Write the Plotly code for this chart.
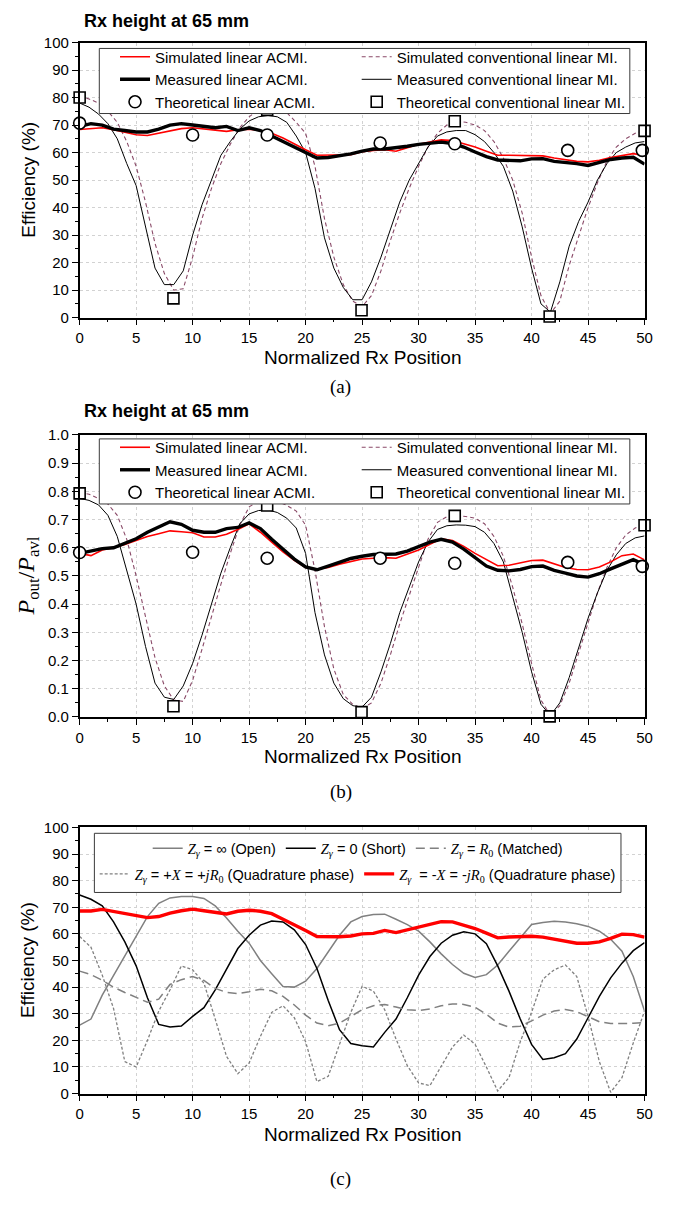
import plotly.graph_objects as go

W, H = 684, 1215
SANS = "Liberation Sans, Arial, sans-serif"
SERIF = "Liberation Serif, Times New Roman, serif"

# ---------------- shared x positions ----------------
pos_int = list(range(0, 51))
pos_fine = [0, 0.83, 1.67, 2.5, 3.33, 4.17, 5, 5.83, 6.67, 7.5, 8.33, 9.17, 10,
            10.83, 11.67, 12.5, 13.33, 14.17, 15, 15.83, 16.67, 17.5, 18.33, 19.17,
            20, 20.83, 21.67, 22.5, 23.33, 24.17, 25, 25.83, 26.67, 27.5, 28.33,
            29.17, 30, 30.83, 31.67, 32.5, 33.33, 34.17, 35, 35.83, 36.67, 37.5,
            38.33, 39.17, 40, 40.83, 41.67, 42.5, 43.33, 44.17, 45, 45.83, 46.67,
            47.5, 48.33, 49.17, 50]
theo_acmi_pos = [0, 10, 16.6, 26.6, 33.2, 43.2, 49.8]
theo_conv_pos = [0, 8.3, 16.6, 24.95, 33.2, 41.6, 50]

# ---------------- panel (a): efficiency (%) ----------------
a_sim_acmi = [68.4, 68.6, 69, 68.3, 67.3, 66.5, 66.2, 67, 68, 68.7, 69, 68.5, 68,
              67.7, 68.3, 68.5, 68, 67, 65.3, 63, 61, 59, 59, 59, 59.2, 60.3, 60.8,
              61, 60.5, 61.8, 63, 63.8, 64.6, 64.4, 63.3, 62, 60.5, 59, 59, 59, 59,
              58.8, 58, 57.3, 56.8, 56.6, 57.2, 58.2, 59, 59.6, 58.9]
a_meas_acmi = [69.5, 70.5, 70, 68.5, 68, 67.5, 67.5, 68.5, 70, 70.5, 70, 69.5, 69,
               69.5, 68, 69, 68, 66, 64, 62, 60, 58, 58.2, 58.8, 59.5, 60.5, 61.3,
               61.3, 61.7, 62.3, 63, 63.5, 63.8, 63.3, 62, 60.2, 58.5, 57.3, 57, 57,
               57.7, 57.8, 56.8, 56.5, 56, 55.3, 56.5, 57.5, 58, 58.3, 55.8]
a_sim_conv = [80.5, 79.5, 78, 75, 71, 64, 55, 42, 27, 16, 10, 10.5, 22, 36, 47, 56,
              63, 69, 73, 75.5, 76.5, 76, 74.5, 71, 67, 55, 36, 22, 12, 6, 4, 8, 17,
              28, 38, 47, 55, 62, 67, 70, 71.5, 71, 70, 68, 64, 58, 50, 38, 22, 8,
              1.5, 6, 19, 30, 40, 49, 57, 62, 65, 67, 68]
a_meas_conv = [78, 76.5, 74, 70.5, 65, 56, 48, 33, 18, 12, 12, 17, 30, 41, 50, 59,
               64, 68.5, 71.5, 73, 73.5, 73, 71, 66, 60, 47, 29, 18, 11, 6.5, 6.5,
               13, 22, 32, 42, 50, 56, 62, 66, 67.5, 68, 68, 66.5, 64, 60, 55, 46,
               33, 18, 5, 2, 13, 26, 35, 42, 50, 56, 60, 62, 63.5, 64]
a_theo_acmi = [70.7, 66.4, 66.4, 63.5, 63.2, 60.8, 60.8]
a_theo_conv = [80, 7, 75.5, 2.7, 71.4, 0.4, 67.9]

# ---------------- panel (b): Pout / Pavl ----------------
b_sim_acmi = [0.58, 0.572, 0.592, 0.6, 0.612, 0.627, 0.64, 0.65, 0.66, 0.657, 0.653,
              0.638, 0.638, 0.648, 0.665, 0.685, 0.655, 0.62, 0.585, 0.555, 0.53,
              0.524, 0.53, 0.542, 0.552, 0.56, 0.563, 0.565, 0.563, 0.578, 0.592,
              0.612, 0.632, 0.626, 0.605, 0.58, 0.558, 0.536, 0.538, 0.547, 0.555,
              0.556, 0.543, 0.53, 0.523, 0.522, 0.532, 0.55, 0.572, 0.578, 0.557]
b_meas_acmi = [0.58, 0.59, 0.597, 0.6, 0.615, 0.632, 0.655, 0.675, 0.692, 0.683,
               0.662, 0.655, 0.655, 0.668, 0.672, 0.688, 0.668, 0.63, 0.595, 0.56,
               0.532, 0.522, 0.535, 0.55, 0.562, 0.57, 0.576, 0.577, 0.578, 0.588,
               0.605, 0.62, 0.63, 0.62, 0.595, 0.565, 0.535, 0.52, 0.518, 0.523,
               0.533, 0.535, 0.52, 0.51, 0.5, 0.496, 0.508, 0.525, 0.54, 0.558, 0.54]
b_sim_conv = [0.795, 0.79, 0.775, 0.755, 0.715, 0.63, 0.50, 0.36, 0.21, 0.11, 0.06,
              0.055, 0.13, 0.24, 0.36, 0.47, 0.58, 0.68, 0.745, 0.765, 0.77, 0.765,
              0.75, 0.73, 0.68, 0.52, 0.32, 0.17, 0.08, 0.045, 0.03, 0.05, 0.12,
              0.22, 0.33, 0.43, 0.53, 0.63, 0.69, 0.71, 0.713, 0.711, 0.705, 0.685,
              0.64, 0.57, 0.46, 0.33, 0.19, 0.06, 0.005, 0.04, 0.12, 0.23, 0.34,
              0.44, 0.53, 0.6, 0.645, 0.67, 0.685]
b_meas_conv = [0.775, 0.768, 0.752, 0.715, 0.64, 0.52, 0.40, 0.25, 0.12, 0.07,
               0.062, 0.11, 0.19, 0.29, 0.40, 0.51, 0.60, 0.685, 0.72, 0.732, 0.734,
               0.725, 0.705, 0.67, 0.58, 0.37, 0.22, 0.12, 0.065, 0.04, 0.035, 0.07,
               0.16, 0.26, 0.37, 0.46, 0.55, 0.62, 0.665, 0.678, 0.681, 0.68, 0.675,
               0.655, 0.615, 0.55, 0.43, 0.30, 0.16, 0.045, 0.005, 0.05, 0.14, 0.25,
               0.35, 0.44, 0.52, 0.575, 0.615, 0.635, 0.642]
b_theo_acmi = [0.583, 0.584, 0.563, 0.563, 0.545, 0.548, 0.534]
b_theo_conv = [0.793, 0.038, 0.75, 0.017, 0.713, 0.002, 0.68]

# ---------------- panel (c): termination cases, efficiency (%) ----------------
c_open = [25.7, 28, 37, 44.5, 51.5, 59, 66.5, 71.5, 73.5, 74, 74, 73.3, 70.5, 66,
          61, 56.5, 50, 45, 40.2, 40, 42.2, 47, 53.5, 59.5, 64.5, 66.5, 67.3, 67.4,
          65.5, 63.5, 61, 57, 52.5, 48.5, 45.2, 43.6, 44.7, 48.3, 53.5, 58.5, 63.5,
          64.3, 64.7, 64.5, 63.8, 62.8, 61, 58, 53.5, 44, 31]
c_short = [74.6, 73, 70.5, 64.5, 57, 48, 36, 26, 25, 25.4, 29, 32.3, 39, 47, 54.5,
           59.5, 63.3, 64.8, 64.5, 61.5, 56, 47, 35, 24, 18.8, 18, 17.5, 23, 28, 36,
           44.5, 51.5, 56.5, 59.5, 60.8, 60, 56.3, 48, 38.5, 28, 18.5, 12.8, 13.5,
           15, 20.5, 28.5, 36.5, 43.5, 49, 53.7, 56.7]
c_matched = [46, 44.7, 42.6, 40, 38, 36, 34.3, 35.5, 41, 42.8, 44, 42.5, 39.5, 38,
             37.6, 38.3, 39.2, 38.6, 36.5, 33.3, 29.5, 26.5, 25.5, 26.5, 29, 31.5,
             33, 33.5, 32.5, 31.5, 31.2, 31.8, 33, 33.7, 33.5, 32.4, 29.8, 26.5, 25,
             25.3, 27.3, 29.5, 31, 31.6, 30.8, 28.8, 27, 26.3, 26.3, 26.4, 26.7]
c_plus_x = [59, 55, 44.5, 32, 12, 10, 20, 31, 39, 48, 46.5, 41.5, 28, 14, 7.5, 11.5,
            21.5, 30.5, 33, 28.5, 19.5, 4.5, 6.5, 18.5, 30.5, 40.3, 38.5, 31.5, 20.5,
            10.5, 4, 3, 10, 17.5, 22, 18.5, 10, 1, 6, 19.5, 30.5, 43, 46.5, 48.3, 44,
            29, 12, 0.5, 6, 19, 31]
c_minus_x = [68.6, 68.6, 69.2, 68.4, 67.8, 67, 66.1, 66.5, 67.8, 68.7, 69.3, 68.7, 68,
             67.5, 68.5, 68.9, 68.5, 67.6, 65.5, 63.5, 61.3, 59, 58.9, 58.9, 59.2, 60,
             60.2, 61.3, 60.5, 61.5, 62.6, 63.6, 64.6, 64.5, 63.3, 62, 60.3, 58.5,
             58.8, 59.1, 59.1, 58.8, 58, 57.3, 56.5, 56.5, 57, 58.3, 59.9, 59.7, 58.8]

legend_names = ["Simulated linear ACMI.", "Simulated conventional linear MI.",
                "Measured linear ACMI.", "Measured conventional linear MI.",
                "Theoretical linear ACMI.", "Theoretical conventional linear MI."]


def fx(p):
    return p / W


def fy(p):
    return 1 - p / H


RED = "#ff0000"
MAROON = "#8a4a68"
GRAY = "#808080"

fig = go.Figure()


def add_efficiency_panel(n, sim_acmi, meas_acmi, sim_conv, meas_conv, theo_acmi, theo_conv,
                         leg_left, leg_right):
    xa = "x" if n == 1 else f"x{n}"
    ya = "y" if n == 1 else f"y{n}"
    common = dict(xaxis=xa, yaxis=ya, mode="lines")
    fig.add_trace(go.Scatter(x=pos_fine, y=sim_conv, name=legend_names[1], legend=leg_right,
                             legendrank=1, line=dict(color=MAROON, width=1.1, dash="4px,3px"),
                             **common))
    fig.add_trace(go.Scatter(x=pos_fine, y=meas_conv, name=legend_names[3], legend=leg_right,
                             legendrank=2, line=dict(color="black", width=1), **common))
    fig.add_trace(go.Scatter(x=pos_int, y=sim_acmi, name=legend_names[0], legend=leg_left,
                             legendrank=1, line=dict(color=RED, width=1.6), **common))
    fig.add_trace(go.Scatter(x=pos_int, y=meas_acmi, name=legend_names[2], legend=leg_left,
                             legendrank=2, line=dict(color="black", width=3.4), **common))
    fig.add_trace(go.Scatter(x=theo_acmi_pos, y=theo_acmi, name=legend_names[4],
                             legend=leg_left, legendrank=3, mode="markers", cliponaxis=False,
                             marker=dict(symbol="circle", size=12, color="white",
                                         line=dict(color="black", width=1.6)),
                             xaxis=xa, yaxis=ya))
    fig.add_trace(go.Scatter(x=theo_conv_pos, y=theo_conv, name=legend_names[5],
                             legend=leg_right, legendrank=3, mode="markers", cliponaxis=False,
                             marker=dict(symbol="square", size=11, color="white",
                                         line=dict(color="black", width=1.6)),
                             xaxis=xa, yaxis=ya))


add_efficiency_panel(1, a_sim_acmi, a_meas_acmi, a_sim_conv, a_meas_conv,
                     a_theo_acmi, a_theo_conv, "legend", "legend2")
add_efficiency_panel(2, b_sim_acmi, b_meas_acmi, b_sim_conv, b_meas_conv,
                     b_theo_acmi, b_theo_conv, "legend3", "legend4")

# panel (c) legend labels
S = '<span style="font-family:Liberation Serif">'
E = "</span>"
ZG = f"{S}<i>Z</i><sub><i>γ</i></sub>{E}"
name_open = f"{ZG} = ∞ (Open)"
name_short = f"{ZG} = 0 (Short)"
name_matched = f"{ZG} = {S}<i>R</i><sub>0</sub>{E} (Matched)"
name_plus = f"{ZG} = +{S}<i>X</i>{E} = +{S}<i>jR</i><sub>0</sub>{E} (Quadrature phase)"
name_minus = f"{ZG}  = -{S}<i>X</i>{E} = -{S}<i>jR</i><sub>0</sub>{E} (Quadrature phase)"

cc = dict(xaxis="x3", yaxis="y3", mode="lines")
fig.add_trace(go.Scatter(x=pos_int, y=c_open, name=name_open, legend="legend5", legendrank=1,
                         line=dict(color=GRAY, width=1.5), **cc))
fig.add_trace(go.Scatter(x=pos_int, y=c_short, name=name_short, legend="legend5", legendrank=2,
                         line=dict(color="black", width=1.5), **cc))
fig.add_trace(go.Scatter(x=pos_int, y=c_matched, name=name_matched, legend="legend5",
                         legendrank=3, line=dict(color=GRAY, width=1.5, dash="9px,5px"), **cc))
fig.add_trace(go.Scatter(x=pos_int, y=c_plus_x, name=name_plus, legend="legend6", legendrank=1,
                         line=dict(color=GRAY, width=1.3, dash="3px,2px"), **cc))
fig.add_trace(go.Scatter(x=pos_int, y=c_minus_x, name=name_minus, legend="legend6",
                         legendrank=2, line=dict(color=RED, width=3.4), **cc))

# ---------------- axes ----------------
x_dom = [fx(77), fx(652)]
panels = {1: (34, 313), 2: (432, 718), 3: (830, 1100)}


def axis_style():
    return dict(showline=True, linecolor="black", linewidth=1.5, mirror=True,
                ticks="outside", ticklen=6, tickwidth=1.2, tickcolor="black",
                showgrid=True, gridcolor="#d2d2d2", griddash="dot", gridwidth=1,
                zeroline=False, tickfont=dict(size=15, color="black", family=SANS),
                minor=dict(ticks="outside", ticklen=3, tickwidth=1.2, tickcolor="black",
                           showgrid=False))


layout_axes = {}
for n, (top, bot) in panels.items():
    xk = "xaxis" if n == 1 else f"xaxis{n}"
    yk = "yaxis" if n == 1 else f"yaxis{n}"
    ya_ref = "y" if n == 1 else f"y{n}"
    xa_ref = "x" if n == 1 else f"x{n}"
    xs = axis_style()
    xs.update(domain=x_dom, range=[0, 50], tick0=0, dtick=5, anchor=ya_ref)
    xs["minor"].update(dtick=2.5)
    ys = axis_style()
    ys.update(domain=[fy(bot), fy(top)], anchor=xa_ref)
    if n == 2:
        ys.update(range=[0, 1], tick0=0, dtick=0.1, tickformat=".1f")
        ys["minor"].update(dtick=0.05)
    else:
        ys.update(range=[0, 100], tick0=0, dtick=10)
        ys["minor"].update(dtick=5)
    layout_axes[xk] = xs
    layout_axes[yk] = ys

fig.update_layout(**layout_axes)


# ---------------- legends ----------------
def legend_box(x_px, y_px, size, xanchor="left", orientation="v"):
    return dict(x=fx(x_px), y=fy(y_px), xref="paper", yref="paper", xanchor=xanchor,
                yanchor="top", orientation=orientation, bgcolor="rgba(0,0,0,0)",
                borderwidth=0, font=dict(size=size, color="black", family=SANS),
                traceorder="normal", tracegroupgap=0)


fig.update_layout(
    legend=legend_box(113, 32, 15),
    legend2=legend_box(359, 32, 15),
    legend3=legend_box(113, 428, 15),
    legend4=legend_box(359, 428, 15),
    legend5=legend_box(360, 835, 14.5, xanchor="center", orientation="h"),
    legend6=legend_box(360, 861, 14.5, xanchor="center", orientation="h"),
)

shapes = []
for (x0, x1, y0, y1) in [(97, 637, 40, 106), (97, 637, 436, 502), (92, 628, 836, 896)]:
    shapes.append(dict(type="rect", xref="paper", yref="paper", x0=fx(x0), x1=fx(x1),
                       y0=fy(y1), y1=fy(y0), fillcolor="white",
                       line=dict(color="#3a3a3a", width=1), layer="above"))

# ---------------- text ----------------
ann = []


def note(text, x_px, y_px, size, family=SANS, angle=0, xanchor="center"):
    ann.append(dict(text=text, x=fx(x_px), y=fy(y_px), xref="paper", yref="paper",
                    xanchor=xanchor, yanchor="middle", textangle=angle, showarrow=False,
                    font=dict(size=size, family=family, color="black")))


for top in (12, 408):
    note("<b>Rx height at 65 mm</b>", 79, top, 18, xanchor="left")
for yc in ((34 + 313) / 2, (830 + 1100) / 2):
    note("Efficiency (%)", 24, yc, 19, angle=-90)
note("<i>P</i><sub>out</sub>/<i>P</i><sub>avl</sub>", 24, (432 + 718) / 2, 24,
     family=SERIF, angle=-90)
for yc in (353, 758, 1141):
    note("Normalized Rx Position", 364.5, yc, 19)
for lab, yc in (("(a)", 383), ("(b)", 794), ("(c)", 1187)):
    note(lab, 343, yc, 19, family=SERIF)

fig.update_layout(width=W, height=H, margin=dict(l=0, r=0, t=0, b=0),
                  paper_bgcolor="white", plot_bgcolor="white", shapes=shapes,
                  annotations=ann, font=dict(family=SANS, color="black"))

fig.write_html("out.html")
